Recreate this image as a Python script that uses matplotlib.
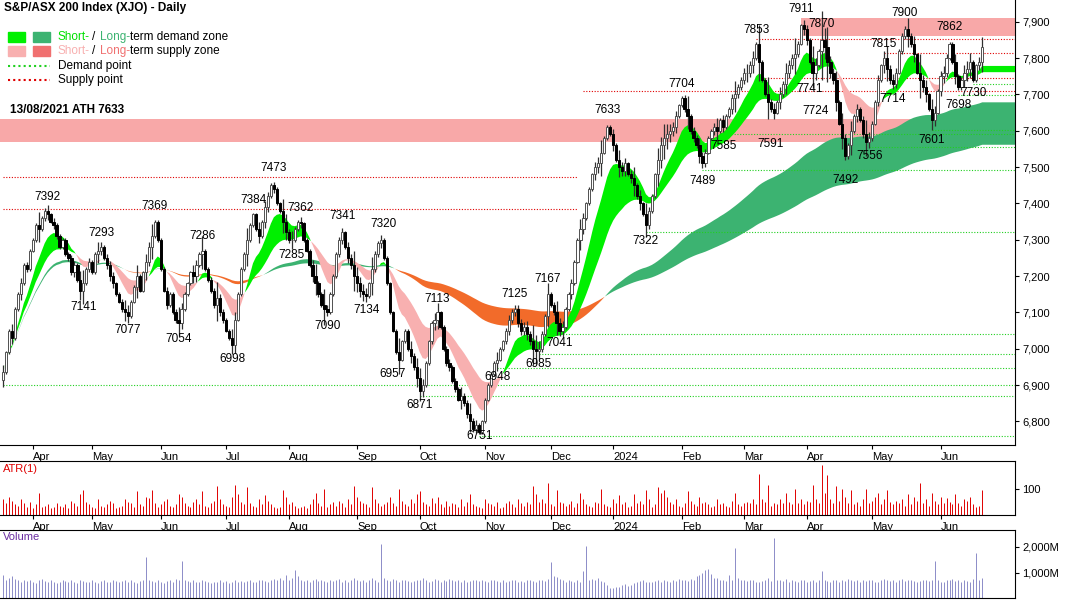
import numpy as np
import pandas as pd
import matplotlib
matplotlib.use("Agg")
import matplotlib.pyplot as plt

plt.rcParams["font.family"] = ["Liberation Sans", "DejaVu Sans"]

# ---- daily closes (S&P/ASX 200) ----
closes = [
    6935, 6990, 7050, 7030, 7110, 7150, 7180, 7230, 7220, 7270,
    7300, 7340, 7330, 7360, 7380, 7370, 7350, 7340, 7310, 7280,
    7300, 7260, 7250, 7210, 7230, 7190, 7160, 7180, 7220, 7240,
    7210, 7260, 7270, 7280, 7250, 7230, 7200, 7180, 7150, 7130,
    7110, 7100, 7090, 7130, 7170, 7200, 7160, 7210, 7240, 7280,
    7310, 7350, 7300, 7220, 7160, 7120, 7150, 7100, 7080, 7070,
    7110, 7150, 7180, 7210, 7200, 7230, 7260, 7270, 7220, 7190,
    7160, 7120, 7140, 7100, 7080, 7050, 7030, 7010, 7080, 7150,
    7220, 7260, 7300, 7340, 7370, 7330, 7310, 7350, 7390, 7420,
    7450, 7440, 7400, 7380, 7350, 7320, 7300, 7300, 7330, 7350,
    7345, 7300, 7270, 7230, 7200, 7180, 7150, 7120, 7110, 7100,
    7150, 7200, 7260, 7300, 7320, 7280, 7250, 7230, 7200, 7180,
    7160, 7150, 7145, 7180, 7220, 7260, 7290, 7300, 7250, 7180,
    7100, 7050, 6990, 6970, 7020, 7050, 7000, 6980, 6950, 6920,
    6885, 6900, 6960, 7020, 7070, 7080, 7100, 7060, 7000, 6960,
    6950, 6910, 6890, 6860, 6870, 6850, 6820, 6800, 6780, 6790,
    6770, 6800, 6860, 6900, 6930, 6960, 6970, 7000, 7020, 7050,
    7080, 7100, 7110, 7070, 7050, 7060, 7040, 7020, 7000, 6995,
    7000, 7040, 7090, 7150, 7120, 7100, 7070, 7050, 7060, 7110,
    7150, 7180, 7240, 7300, 7330, 7360, 7400, 7440, 7480, 7500,
    7510, 7540, 7580, 7610, 7590, 7560, 7520, 7500, 7490, 7510,
    7480, 7470, 7450, 7420, 7400, 7370, 7340, 7380, 7420, 7480,
    7520, 7560, 7580, 7590, 7600, 7610, 7640, 7670, 7690, 7660,
    7640, 7600, 7580, 7560, 7530, 7510, 7540, 7580, 7600, 7610,
    7600, 7630, 7610, 7640, 7660, 7690, 7700, 7720, 7740, 7760,
    7760, 7780, 7800, 7840, 7790, 7740, 7700, 7680, 7660, 7650,
    7680, 7700, 7730, 7760, 7780, 7800, 7810, 7840, 7890, 7880,
    7850, 7790, 7760, 7780, 7820, 7850, 7830, 7790, 7760, 7740,
    7680, 7620, 7580, 7530, 7560, 7600, 7640, 7660, 7630, 7590,
    7570, 7580, 7620, 7680, 7740, 7780, 7800, 7770, 7740, 7730,
    7760, 7820, 7860, 7880, 7860, 7840, 7810, 7760, 7740, 7720,
    7700, 7660, 7630, 7650, 7710, 7750, 7760, 7800, 7840, 7790,
    7750, 7720, 7740, 7760, 7770, 7790, 7740, 7780, 7790, 7830,
]

# ---- ATR(1) = daily high-low range, points ----
ranges = [
    60, 45, 70, 55, 40, 35, 60, 45, 30, 50,
    25, 40, 85, 30, 35, 40, 25, 30, 45, 35,
    30, 40, 25, 55, 45, 35, 80, 95, 50, 40,
    30, 25, 60, 35, 30, 40, 55, 45, 25, 30,
    35, 60, 50, 45, 30, 90, 40, 35, 70, 65,
    95, 45, 30, 40, 55, 60, 35, 30, 40, 80,
    70, 45, 35, 30, 50, 60, 40, 90, 35, 30,
    45, 55, 110, 60, 40, 35, 30, 70, 115, 80,
    50, 40, 105, 45, 35, 30, 60, 40, 75, 55,
    40, 30, 25, 30, 95, 70, 40, 50, 35, 25,
    30, 35, 25, 40, 60, 85, 45, 35, 100, 30,
    40, 50, 35, 55, 45, 30, 60, 40, 110, 70,
    55, 45, 40, 30, 105, 60, 45, 35, 40, 50,
    70, 45, 35, 100, 55, 40, 35, 60, 45, 80,
    90, 50, 40, 35, 65, 45, 70, 40, 30, 55,
    35, 45, 40, 30, 60, 35, 50, 80, 40, 35,
    30, 25, 60, 45, 40, 35, 50, 25, 30, 45,
    55, 40, 30, 60, 45, 35, 50, 40, 110, 80,
    50, 60, 45, 120, 40, 35, 95, 50, 45, 35,
    40, 55, 30, 45, 85, 60, 40, 35, 30, 50,
    45, 100, 40, 35, 30, 60, 45, 75, 40, 50,
    30, 35, 80, 45, 55, 40, 95, 60, 30, 40,
    105, 85, 95, 70, 50, 40, 60, 35, 30, 45,
    90, 55, 40, 35, 70, 45, 50, 40, 30, 35,
    60, 40, 45, 35, 30, 55, 85, 40, 35, 45,
    50, 45, 60, 40, 155, 60, 50, 115, 35, 45,
    40, 60, 45, 85, 50, 40, 100, 45, 60, 40,
    55, 50, 115, 60, 45, 190, 85, 150, 60, 45,
    110, 55, 100, 70, 45, 95, 40, 50, 35, 60,
    100, 45, 55, 70, 85, 40, 60, 95, 50, 40,
    55, 45, 60, 35, 80, 40, 70, 55, 120, 45,
    60, 35, 85, 55, 40, 70, 45, 65, 50, 40,
    80, 45, 35, 60, 55, 70, 40, 30, 35, 95,
]

# ---- volume, millions ----
volumes = [
    900, 700, 800, 850, 750, 700, 650, 720, 680, 700,
    650, 600, 700, 750, 680, 620, 700, 650, 600, 640,
    700, 680, 640, 720, 650, 600, 700, 680, 620, 650,
    700, 650, 600, 680, 720, 650, 640, 700, 660, 620,
    680, 700, 650, 720, 640, 600, 680, 700, 1600, 700,
    680, 650, 720, 640, 600, 680, 700, 650, 760, 720,
    1450, 700, 680, 650, 720, 640, 620, 700, 660, 640,
    600, 650, 620, 700, 640, 680, 600, 650, 700, 640,
    660, 620, 680, 700, 650, 640, 700, 720, 680, 650,
    700, 760, 720, 800, 700, 900, 700, 780, 1100, 850,
    700, 680, 720, 650, 700, 740, 680, 720, 660, 640,
    700, 680, 720, 760, 650, 700, 640, 700, 800, 720,
    680, 700, 650, 720, 780, 700, 640, 2100, 800, 700,
    680, 760, 700, 640, 720, 700, 660, 640, 680, 700,
    720, 800, 700, 650, 680, 740, 700, 650, 720, 680,
    760, 700, 680, 720, 650, 700, 640, 680, 720, 700,
    660, 700, 680, 640, 720, 700, 680, 650, 700, 640,
    680, 720, 700, 650, 680, 640, 700, 720, 680, 650,
    700, 720, 680, 750, 1400, 850, 820, 760, 700, 650,
    720, 680, 640, 700, 650, 1050, 2050, 700, 760, 720,
    800, 680, 650, 500, 400, 380, 450, 420, 500, 550,
    480, 520, 600, 620, 680, 700, 650, 640, 620, 680,
    700, 650, 720, 680, 640, 700, 680, 750, 700, 720,
    680, 760, 700, 850, 900, 1000, 1100, 1150, 950, 800,
    780, 720, 700, 680, 900, 700, 1950, 800, 720, 700,
    680, 700, 720, 650, 640, 680, 700, 800, 680, 2350,
    720, 700, 680, 760, 650, 700, 680, 640, 700, 720,
    650, 680, 700, 640, 700, 1050, 700, 680, 650, 700,
    720, 650, 700, 680, 740, 700, 680, 720, 650, 700,
    680, 700, 720, 650, 640, 700, 760, 700, 680, 720,
    650, 700, 740, 680, 720, 700, 660, 640, 680, 700,
    720, 680, 700, 1450, 700, 650, 640, 700, 720, 760,
    680, 700, 650, 720, 680, 640, 740, 1750, 700, 800,
]

# pivot labels: (bar index, price the label sits at, text, above?)
pivots = [
    (15, 7392, "7392", True), (27, 7141, "7141", False), (33, 7293, "7293", True),
    (42, 7077, "7077", False), (51, 7369, "7369", True), (59, 7054, "7054", False),
    (67, 7286, "7286", True), (77, 6998, "6998", False), (84, 7384, "7384", True),
    (91, 7473, "7473", True), (97, 7285, "7285", False), (100, 7362, "7362", True),
    (109, 7090, "7090", False), (114, 7341, "7341", True), (122, 7134, "7134", False),
    (128, 7320, "7320", True), (131, 6957, "6957", False), (140, 6871, "6871", False),
    (146, 7113, "7113", True), (160, 6785, "6751", False), (172, 7125, "7125", True),
    (166, 6948, "6948", False), (180, 6985, "6985", False), (183, 7167, "7167", True),
    (187, 7041, "7041", False), (203, 7633, "7633", True), (216, 7322, "7322", False),
    (228, 7704, "7704", True), (235, 7489, "7489", False), (242, 7585, "7585", False),
    (253, 7853, "7853", True), (258, 7591, "7591", False), (268, 7911, "7911", True),
    (271, 7741, "7741", False), (275, 7870, "7870", True), (273, 7680, "7724", False),
    (283, 7492, "7492", False), (291, 7556, "7556", False), (296, 7815, "7815", True),
    (299, 7714, "7714", False), (303, 7900, "7900", True), (312, 7601, "7601", False),
    (318, 7862, "7862", True), (321, 7698, "7698", False), (326, 7730, "7730", False),
]

supply_lines = [(0, 193, 7473), (0, 193, 7384), (195, 340, 7710),
                (253, 340, 7853), (296, 340, 7815), (255, 340, 7745)]
demand_lines = [(326, 340, 7730), (321, 340, 7698), (312, 340, 7601),
                (242, 340, 7590), (291, 340, 7556), (235, 340, 7492),
                (216, 340, 7322), (187, 340, 7041), (180, 340, 6985),
                (166, 340, 6948), (0, 340, 6900), (140, 340, 6871),
                (160, 340, 6760)]

n = len(closes)
dates = pd.bdate_range(end="2024-06-21", periods=n)
x = np.arange(n)
c = np.array(closes, float)
o = np.r_[c[0] - 20, c[:-1]]
rng = np.array(ranges, float)
body = np.abs(c - o)
extra = np.maximum(rng - body, 10) / 2
hi = np.maximum(o, c) + extra
lo = np.minimum(o, c) - extra

s = pd.Series(c)
s_fast, s_slow = s.ewm(span=10).mean().values, s.ewm(span=25).mean().values
l_fast, l_slow = s.ewm(span=100).mean().values, s.ewm(span=200).mean().values

W, H = 1066, 600
fig = plt.figure(figsize=(W / 100, H / 100), dpi=100)
XR = 1015 / W
ax = fig.add_axes([0, 1 - 445 / H, XR, 445 / H])
ax_atr = fig.add_axes([0, 1 - 515 / H, XR, 54 / H])
ax_vol = fig.add_axes([0, 0.003, XR, 68 / H])
XMAX = 340

# zones
ax.fill_between([-1, XMAX], 7568, 7633, color="#F8A8A8", lw=0, zorder=1)
ax.fill_between([268, XMAX], 7862, 7911, color="#F8A8A8", lw=0, zorder=1)

xe = np.r_[x, XMAX]
def ext(a):
    return np.r_[a, a[-1]]

lf, ls_ = ext(l_fast), ext(l_slow)
sf, ss = ext(s_fast), ext(s_slow)
ax.fill_between(xe, lf, ls_, where=lf >= ls_, color="#3CB371", lw=0, zorder=2, interpolate=True)
ax.fill_between(xe, lf, ls_, where=lf < ls_, color="#F26B2A", lw=0, zorder=2, interpolate=True)
ax.fill_between(xe, sf, ss, where=sf >= ss, color="#00F000", lw=0, zorder=3, interpolate=True)
ax.fill_between(xe, sf, ss, where=sf < ss, color="#F8B0B0", lw=0, zorder=3, interpolate=True)

for x0, x1, p in supply_lines:
    ax.plot([x0, x1], [p, p], color="#E00000", ls=(0, (1, 1.5)), lw=0.8, zorder=2)
for x0, x1, p in demand_lines:
    ax.plot([x0, x1], [p, p], color="#20D020", ls=(0, (1, 1.5)), lw=0.8, zorder=2)

# candles
up = c >= o
ax.vlines(x, lo, hi, color="#303030", lw=0.9, zorder=4)
ax.bar(x[up], (c - o)[up], bottom=o[up], width=0.75, color="white",
       edgecolor="#505050", lw=0.7, zorder=5)
ax.bar(x[~up], (o - c)[~up], bottom=c[~up], width=0.75, color="black",
       edgecolor="black", lw=0.7, zorder=5)

for i, p, t, above in pivots:
    ax.text(i, p + (8 if above else -10), t, ha="center",
            va="bottom" if above else "top", fontsize=8.5, zorder=6)

ax.set_ylim(6735, 7960)
yt = np.arange(6800, 8000, 100)
ax.yaxis.tick_right()
ax.set_yticks(yt)
ax.set_yticklabels([f"{v:,}" for v in yt])

# months
mstart = [i for i in range(1, n) if dates[i].month != dates[i - 1].month]
mlabels = ["2024" if dates[i].month == 1 else dates[i].strftime("%b") for i in mstart]
for a in (ax, ax_atr, ax_vol):
    a.set_xlim(-1, XMAX)
    a.set_xticks(mstart)
    a.spines["left"].set_visible(False)
    a.spines["top"].set_visible(False)
    a.tick_params(labelsize=8, length=3, pad=2)
    a.yaxis.tick_right()
for a in (ax, ax_atr):
    a.set_xticklabels(mlabels, ha="left")
ax_vol.set_xticklabels([])
ax_vol.tick_params(axis="x", length=0)
ax_atr.spines["top"].set_visible(True)
ax_vol.spines["top"].set_visible(True)

# ATR
ax_atr.vlines(x, 0, rng, color="#E00000", lw=0.7)
ax_atr.set_ylim(0, 205)
ax_atr.set_yticks([100])
ax_atr.text(0.003, 0.95, "ATR(1)", color="#E00000", fontsize=8,
            transform=ax_atr.transAxes, va="top")

# Volume
ax_vol.vlines(x, 0, volumes, color="#8C8CC8", lw=0.7)
ax_vol.set_ylim(0, 2650)
ax_vol.set_yticks([1000, 2000])
ax_vol.set_yticklabels(["1,000M", "2,000M"])
ax_vol.text(0.003, 0.97, "Volume", color="#6A2DA0", fontsize=8,
            transform=ax_vol.transAxes, va="top")

# title & legend
def ft(px, py, s, **kw):
    fig.text(px / W, 1 - py / H, s, va="center", fontsize=8.5, **kw)

ft(4, 8, "S&P/ASX 200 Index (XJO) - Daily", fontweight="bold")
for (px, py, col) in [(8, 37, "#00F000"), (33, 37, "#3CB371"),
                      (8, 51, "#F8B0B0"), (33, 51, "#F07070")]:
    fig.patches.append(plt.Rectangle((px / W, 1 - (py + 5) / H), 17 / W, 10 / H,
                                     color=col, transform=fig.transFigure))
ft(58, 37, "Short-", color="#00E000")
ft(92, 37, "/", color="black")
ft(100, 37, "Long-", color="#3CB371")
ft(130, 37, "term demand zone")
ft(58, 51, "Short-", color="#F8B0B0")
ft(92, 51, "/", color="black")
ft(100, 51, "Long-", color="#F07070")
ft(130, 51, "term supply zone")
fig.add_artist(plt.Line2D([8 / W, 50 / W], [1 - 66 / H] * 2, color="#20D020",
                          ls=(0, (1, 1.5)), lw=1.5))
fig.add_artist(plt.Line2D([8 / W, 50 / W], [1 - 80 / H] * 2, color="#E00000",
                          ls=(0, (1, 1.5)), lw=1.5))
ft(58, 66, "Demand point")
ft(58, 80, "Supply point")
ft(10, 110, "13/08/2021 ATH 7633", fontweight="bold")

fig.savefig("out.png", dpi=100)
